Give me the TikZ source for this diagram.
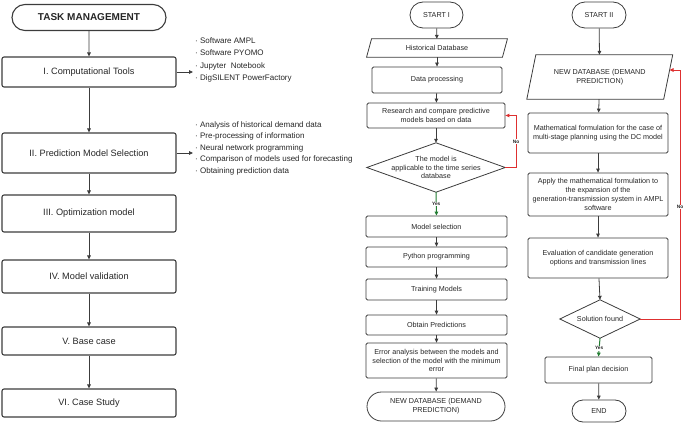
\documentclass[tikz,border=0pt]{standalone}
\usepackage{fontspec}
\setmainfont{Liberation Sans}
\usetikzlibrary{arrows.meta,calc,shapes.misc}
\definecolor{ln}{RGB}{60,60,60}
\definecolor{nored}{RGB}{222,48,48}
\definecolor{yesgreen}{RGB}{35,125,50}
\begin{document}
\begin{tikzpicture}[x=1pt,y=-1pt,
  every node/.style={font=\fontsize{7.2}{8.8}\selectfont, align=center, inner sep=0pt, text=black!85},
  lbox/.style={draw=ln, line width=1.1pt, rounded corners=2pt, minimum width=174pt, font=\fontsize{9.2}{11}\selectfont},
  sbox/.style={draw=ln, line width=0.8pt, rounded corners=1.5pt},
  term/.style={rounded rectangle, draw=ln, line width=0.8pt},
  plain/.style={draw=none},
  shapeline/.style={draw=ln, line width=0.8pt},
  arr/.style={draw=ln, line width=0.8pt, -{Triangle[length=4pt,width=3.6pt]}},
  noarr/.style={draw=nored, line width=0.9pt, -{Triangle[length=4pt,width=3.6pt]}},
  yesarr/.style={draw=yesgreen, line width=1pt, -{Triangle[length=4pt,width=3.6pt]}},
  yn/.style={font=\bfseries\fontsize{4.8}{5.5}\selectfont, fill=white, inner sep=0.6pt},
  listtext/.style={align=left, anchor=west}
]
\useasboundingbox (0,0) rectangle (685,425);

% ---------------- left column ----------------
\node[term, line width=1.1pt, minimum width=154pt, minimum height=26pt, font=\bfseries\fontsize{10}{12}\selectfont] (tm) at (89,17.5) {TASK MANAGEMENT};
\node[lbox, minimum height=30pt] (c1) at (89,72) {I. Computational Tools};
\node[lbox, minimum height=40pt] (c2) at (89,153) {II. Prediction Model Selection};
\node[lbox, minimum height=37pt] (c3) at (89,213.5) {III. Optimization model};
\node[lbox, minimum height=33pt] (c4) at (89,276.5) {IV. Model validation};
\node[lbox, minimum height=28pt] (c5) at (89,341) {V. Base case};
\node[lbox, minimum height=28pt] (c6) at (89,403) {VI. Case Study};

\draw[arr] (tm) -- (c1);
\draw[arr] (c1) -- (c2);
\draw[arr] (c2) -- (c3);
\draw[arr] (c3) -- (c4);
\draw[arr] (c4) -- (c5);
\draw[arr] (c5) -- (c6);

\coordinate (a1) at (193,72);
\coordinate (a2) at (193,153);
\draw[arr] (c1.east) -- (a1);
\draw[arr] (c2.east) -- (a2);

\node[listtext, font=\fontsize{8}{12.2}\selectfont] (l1) at (195,60) {· Software AMPL\\· Software PYOMO\\· Jupyter\ \ Notebook\\· DigSILENT PowerFactory};
\node[listtext, font=\fontsize{8}{11.5}\selectfont] (l2) at (195,148) {· Analysis of historical demand data\\· Pre-processing of information\\· Neural network programming\\· Comparison of models used for forecasting\\· Obtaining prediction data};

% ---------------- middle column ----------------
\node[term, minimum width=53pt, minimum height=26pt] (s1) at (436.5,15) {START I};
\node[plain, minimum width=135.5pt, minimum height=18pt] (hd) at (437,48) {Historical Database};
\draw[shapeline] ($(hd.north west)+(2.5,0)$) -- ($(hd.north east)+(2.5,0)$) -- ($(hd.south east)+(-2.5,0)$) -- ($(hd.south west)+(-2.5,0)$) -- cycle;
\node[sbox, minimum width=130pt, minimum height=26pt] (dp) at (437,80) {Data processing};
\node[sbox, minimum width=138pt, minimum height=25pt] (rc) at (436,115.5) {Research and compare predictive\\models based on data};
\node[plain, minimum width=138pt, minimum height=49pt] (d1) at (436,167.5) {The model is\\applicable to the time series\\database};
\draw[shapeline] (d1.north) -- (d1.east) -- (d1.south) -- (d1.west) -- cycle;
\node[sbox, minimum width=141pt, minimum height=21pt] (ms) at (436.5,226.5) {Model selection};
\node[sbox, minimum width=141pt, minimum height=20pt] (pp) at (436.5,257) {Python programming};
\node[sbox, minimum width=141pt, minimum height=21pt] (tr) at (436.5,289.5) {Training Models};
\node[sbox, minimum width=141pt, minimum height=20pt] (op) at (436.5,325) {Obtain Predictions};
\node[sbox, minimum width=141pt, minimum height=35pt] (er) at (436.5,360.5) {Error analysis between the models and\\selection of the model with the minimum\\error};
\node[term, minimum width=138pt, minimum height=29pt] (nd1) at (436,406.5) {NEW DATABASE (DEMAND\\PREDICTION)};

\draw[arr] (s1) -- (hd);
\draw[arr] (hd) -- (dp);
\draw[arr] (dp) -- (rc);
\draw[arr] (rc) -- (d1.north);
\draw[yesarr] (d1.south) -- node[yn, pos=0.5] (y1) {Yes} (ms.north);
\coordinate (n1) at (516,167.5);
\draw[noarr] (d1.east) -- (n1) |- node[yn, pos=0.25] (no1) {No} (rc.east);
\draw[arr] (ms) -- (pp);
\draw[arr] (pp) -- (tr);
\draw[arr] (tr) -- (op);
\draw[arr] (op) -- (er);
\draw[arr] (er) -- (nd1);

% ---------------- right column ----------------
\node[term, minimum width=54pt, minimum height=26pt] (s2) at (599,15) {START II};
\node[plain, minimum width=136.5pt, minimum height=44pt] (nd2) at (599.75,77) {NEW DATABASE (DEMAND\\PREDICTION)};
\draw[shapeline] ($(nd2.north west)+(4.5,0)$) -- ($(nd2.north east)+(4.5,0)$) -- ($(nd2.south east)+(-4.5,0)$) -- ($(nd2.south west)+(-4.5,0)$) -- cycle;
\node[sbox, minimum width=140pt, minimum height=40pt] (mf) at (598,133) {Mathematical formulation for the case of\\multi-stage planning using the DC model};
\node[sbox, minimum width=140pt, minimum height=43pt] (ap) at (598,194.5) {Apply the mathematical formulation to\\the expansion of the\\generation-transmission system in AMPL\\software};
\node[sbox, minimum width=140pt, minimum height=40pt] (ev) at (598,258) {Evaluation of candidate generation\\options and transmission lines};
\node[plain, minimum width=80pt, minimum height=38pt] (d2) at (600,319) {Solution found};
\draw[shapeline] (d2.north) -- (d2.east) -- (d2.south) -- (d2.west) -- cycle;
\node[sbox, minimum width=107pt, minimum height=26pt] (fp) at (598.5,370) {Final plan decision};
\node[term, minimum width=54pt, minimum height=22pt] (en) at (599,411) {END};

\draw[arr] (s2) -- (nd2);
\draw[arr] (nd2) -- (mf);
\draw[arr] (mf) -- (ap);
\draw[arr] (ap) -- (ev);
\draw[arr] (ev) -- (d2.north);
\draw[yesarr] (d2.south) -- node[yn, pos=0.55] (y2) {Yes} (fp.north);
\draw[arr] (fp) -- (en);
\coordinate (n2) at (680,319);
\coordinate (nd2in) at (669.5,70);
\draw[noarr] (d2.east) -- (n2) |- node[yn, pos=0.225] (no2) {No} (nd2in);
\end{tikzpicture}
\end{document}
